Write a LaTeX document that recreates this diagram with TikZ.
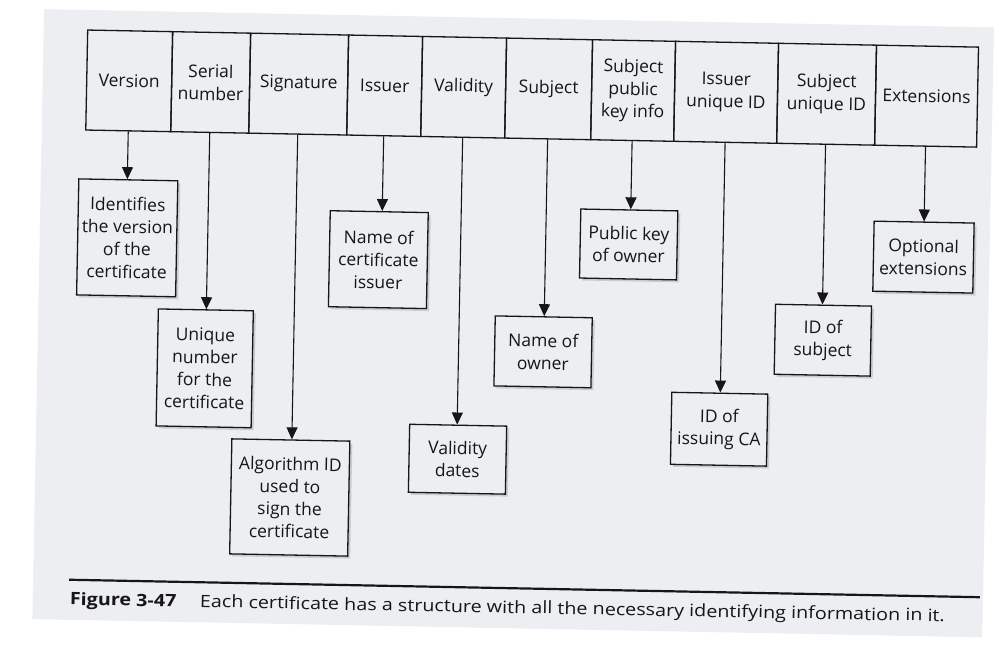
\documentclass[tikz,border=0pt]{standalone}
\usepackage{fontspec}
\setmainfont{Open Sans}
\usetikzlibrary{arrows.meta,shadows,calc}
\definecolor{page}{RGB}{236,238,242}
\definecolor{ink}{RGB}{22,22,24}
\tikzset{
  field/.style={draw=ink, line width=1.3pt, inner sep=0pt, align=center, text=ink,
    font=\fontsize{17.5}{22.5}\selectfont},
  descbox/.style={field, fill=page,
    drop shadow={shadow xshift=2.5pt, shadow yshift=-2.5pt, fill=gray, opacity=0.3}},
  link/.style={draw=ink, line width=1.1pt, -{Triangle[length=12pt,width=11pt]}},
}
\newcommand{\downto}[2]{\draw[link] (#1.south) -- ($(#2.north west)!(#1.south)!(#2.north east)$);}
\begin{document}
\begin{tikzpicture}[x=1pt,y=-1pt]
\useasboundingbox (0,0) rectangle (999,661);
\fill[white] (0,0) rectangle (999,661);
\begin{scope}[rotate around={-1.1:(500,330)}, transform shape]
  \fill[page] (38,18) rectangle (988,628);
  % top row of fields
  \node[field, minimum width=85pt,  minimum height=100pt] (ver)  at (124.5,88) {Version};
  \node[field, minimum width=78pt,  minimum height=100pt] (ser)  at (206,88)   {Serial\\number};
  \node[field, minimum width=98pt,  minimum height=100pt] (sig)  at (294,88)   {Signature};
  \node[field, minimum width=74pt,  minimum height=100pt] (iss)  at (380,88)   {Issuer};
  \node[field, minimum width=84pt,  minimum height=100pt] (val)  at (459,88)   {Validity};
  \node[field, minimum width=86pt,  minimum height=100pt] (sub)  at (544,88)   {Subject};
  \node[field, minimum width=83pt,  minimum height=100pt] (spk)  at (628.5,88) {Subject\\public\\key info};
  \node[field, minimum width=103pt, minimum height=100pt] (iuid) at (721.5,88) {Issuer\\unique ID};
  \node[field, minimum width=98pt,  minimum height=100pt] (suid) at (822,88)   {Subject\\unique ID};
  \node[field, minimum width=102pt, minimum height=100pt] (ext)  at (922,88)   {Extensions};
  % descriptions
  \node[descbox, minimum width=99pt,  minimum height=116pt] (dver)  at (125.5,245) {Identifies\\the version\\of the\\certificate};
  \node[descbox, minimum width=95pt,  minimum height=117pt] (dser)  at (205.5,374) {Unique\\number\\for the\\certificate};
  \node[descbox, minimum width=118pt, minimum height=115pt] (dsig)  at (293,501.5)  {Algorithm ID\\used to\\sign the\\certificate};
  \node[descbox, minimum width=98pt,  minimum height=96pt]  (diss)  at (377,262)   {Name of\\certificate\\issuer};
  \node[descbox, minimum width=97pt,  minimum height=68pt]  (dval)  at (460,460)   {Validity\\dates};
  \node[descbox, minimum width=97pt,  minimum height=70pt]  (dsub)  at (543.5,351) {Name of\\owner};
  \node[descbox, minimum width=97pt,  minimum height=69pt]  (dspk)  at (627,242)   {Public key\\of owner};
  \node[descbox, minimum width=96pt,  minimum height=72pt]  (diuid) at (721,425)   {ID of\\issuing CA};
  \node[descbox, minimum width=96pt,  minimum height=70pt]  (dsuid) at (823,334)   {ID of\\subject};
  \node[descbox, minimum width=100pt, minimum height=70pt]  (dext)  at (922,249)   {Optional\\extensions};
  % connectors
  \downto{ver}{dver}
  \downto{ser}{dser}
  \downto{sig}{dsig}
  \downto{iss}{diss}
  \downto{val}{dval}
  \downto{sub}{dsub}
  \downto{spk}{dspk}
  \downto{iuid}{diuid}
  \downto{suid}{dsuid}
  \downto{ext}{dext}
  % caption rule and caption
  \coordinate (ruleL) at (74,588);
  \coordinate (ruleR) at (985,588);
  \draw[ink, line width=2.2pt] (ruleL) -- (ruleR);
  \node[anchor=base west, inner sep=0pt, text=ink, font=\fontsize{17}{20}\selectfont] (cap) at (75,613)
    {\resizebox{875pt}{\height}{\textbf{Figure 3-47}\hspace{1.2em}Each certificate has a structure with all the necessary identifying information in it.}};
\end{scope}
\end{tikzpicture}
\end{document}
